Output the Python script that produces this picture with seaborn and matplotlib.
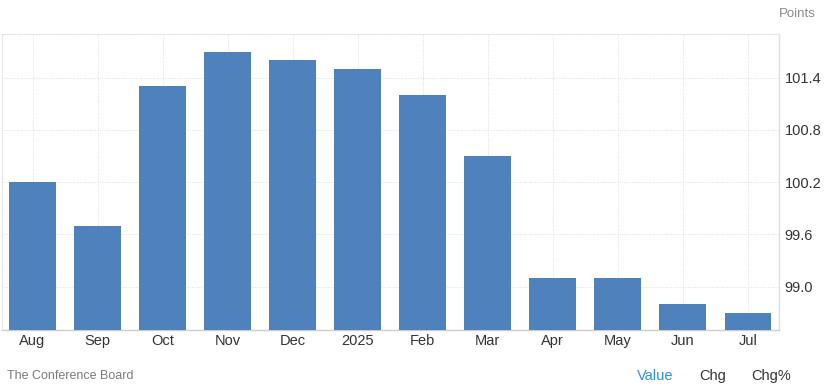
import matplotlib
matplotlib.use("Agg")
import matplotlib.pyplot as plt
import seaborn as sns
import pandas as pd

months = ["Aug", "Sep", "Oct", "Nov", "Dec", "2025", "Feb", "Mar", "Apr", "May", "Jun", "Jul"]
values = [100.2, 99.7, 101.3, 101.7, 101.6, 101.5, 101.2, 100.5, 99.1, 99.1, 98.8, 98.7]
y_ticks = [99.0, 99.6, 100.2, 100.8, 101.4]

sns.set_theme(style="white")
plt.rcParams["font.family"] = ["Liberation Sans", "DejaVu Sans"]

df = pd.DataFrame({"month": months, "value": values})

fig = plt.figure(figsize=(8.25, 3.92), dpi=100)
ax = fig.add_axes([0.0024, 0.158, 0.942, 0.755])

sns.barplot(data=df, x="month", y="value", order=months, color="#4F82BC",
            saturation=1, width=0.72, linewidth=0, ax=ax, zorder=3)

ax.set_xlim(-0.47, 11.48)
ax.set_ylim(98.5, 101.9)
ax.set_yticks(y_ticks)
ax.set_yticklabels([f"{v:.1f}" for v in y_ticks])
ax.yaxis.tick_right()
ax.set_xlabel("")
ax.set_ylabel("")

ax.grid(True, axis="both", color="#dedede", linestyle=(0, (1, 1.5)), linewidth=0.7, zorder=0)
ax.set_axisbelow(True)

ax.tick_params(axis="x", length=0, pad=3, labelsize=10.5, labelcolor="#333333")
ax.tick_params(axis="y", length=0, pad=4, labelsize=10.5, labelcolor="#333333")

for s in ["top", "left"]:
    ax.spines[s].set_color("#dedede")
    ax.spines[s].set_linestyle((0, (1, 1.5)))
    ax.spines[s].set_linewidth(0.7)
ax.spines["bottom"].set_color("#cccccc")
ax.spines["bottom"].set_linewidth(1.0)
ax.spines["right"].set_color("#e0e0e0")
ax.spines["right"].set_linewidth(1.0)

fig.text(797 / 825, 1 - 14 / 392, "Points", ha="center", va="center", fontsize=9.5, color="#8a8a8a")
fig.text(7 / 825, 1 - 376 / 392, "The Conference Board", ha="left", va="center", fontsize=9, color="#7a7a7a")
fig.text(655 / 825, 1 - 376 / 392, "Value", ha="center", va="center", fontsize=10.5, color="#2e8fe6")
fig.text(713 / 825, 1 - 376 / 392, "Chg", ha="center", va="center", fontsize=10.5, color="#333333")
fig.text(771 / 825, 1 - 376 / 392, "Chg%", ha="center", va="center", fontsize=10.5, color="#333333")

fig.savefig("out.png", dpi=100)
